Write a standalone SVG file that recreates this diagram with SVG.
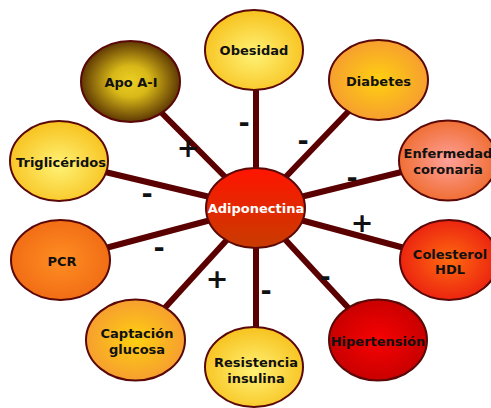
<svg xmlns="http://www.w3.org/2000/svg" width="491" height="408" viewBox="0 0 491 408">
<style>
.node ellipse{stroke:#5a0808;stroke-width:2}
.lbl{font-family:"DejaVu Sans",Verdana,sans-serif;font-weight:bold;font-size:13px;fill:#111;text-anchor:middle}
.ctr{fill:#fff}
.sign{font-family:"DejaVu Sans",Verdana,sans-serif;font-weight:bold;font-size:27px;fill:#111;text-anchor:middle}
#connectors line{stroke:#5a0000;stroke-width:6}
</style>
<defs>
<radialGradient id="gYel" cx="50%" cy="55%" r="55%"><stop offset="0" stop-color="#fff276"/><stop offset="1" stop-color="#f7c21e"/></radialGradient>
<radialGradient id="gApo" cx="50%" cy="50%" r="55%"><stop offset="0" stop-color="#ecd024"/><stop offset="0.35" stop-color="#d8b818"/><stop offset="1" stop-color="#4a2400"/></radialGradient>
<radialGradient id="gOrY" cx="50%" cy="50%" r="55%"><stop offset="0" stop-color="#ffd010"/><stop offset="1" stop-color="#f59a32"/></radialGradient>
<radialGradient id="gEnf" cx="50%" cy="50%" r="55%"><stop offset="0" stop-color="#ffa09a"/><stop offset="1" stop-color="#ee6a2a"/></radialGradient>
<radialGradient id="gCol" cx="50%" cy="50%" r="55%"><stop offset="0" stop-color="#ff6a10"/><stop offset="1" stop-color="#ea1e10"/></radialGradient>
<radialGradient id="gHip" cx="50%" cy="50%" r="55%"><stop offset="0" stop-color="#f80202"/><stop offset="1" stop-color="#c40000"/></radialGradient>
<radialGradient id="gPcr" cx="50%" cy="50%" r="55%"><stop offset="0" stop-color="#ff8e22"/><stop offset="1" stop-color="#f06a14"/></radialGradient>
<linearGradient id="gAdi" x1="0" y1="0" x2="0" y2="1"><stop offset="0" stop-color="#ff1400"/><stop offset="1" stop-color="#c83c00"/></linearGradient>
</defs>
<g id="connectors">
<line x1="256" y1="208" x2="256" y2="50"/>
<line x1="256" y1="208" x2="130.5" y2="81.5"/>
<line x1="256" y1="208" x2="378.5" y2="80"/>
<line x1="256" y1="208" x2="59" y2="161"/>
<line x1="256" y1="208" x2="448" y2="160.5"/>
<line x1="256" y1="208" x2="60.5" y2="260"/>
<line x1="256" y1="208" x2="449" y2="260"/>
<line x1="256" y1="208" x2="135.5" y2="340"/>
<line x1="256" y1="208" x2="378" y2="340"/>
<line x1="256" y1="208" x2="256" y2="368"/>
</g>
<g id="signs">
<text class="sign" x="244" y="132">-</text>
<text class="sign" x="188" y="157">+</text>
<text class="sign" x="303" y="150">-</text>
<text class="sign" x="147" y="203">-</text>
<text class="sign" x="352" y="187">-</text>
<text class="sign" x="362" y="232">+</text>
<text class="sign" x="159" y="257">-</text>
<text class="sign" x="217" y="288">+</text>
<text class="sign" x="266" y="300">-</text>
<text class="sign" x="325" y="286">-</text>
</g>
<g id="obesidad" class="node"><ellipse cx="254" cy="50" rx="49" ry="40" fill="url(#gYel)"/><text class="lbl" x="254" y="55">Obesidad</text></g>
<g id="apo" class="node"><ellipse cx="130.5" cy="81.5" rx="49.5" ry="40.5" fill="url(#gApo)"/><text class="lbl" x="131" y="87">Apo A-I</text></g>
<g id="diabetes" class="node"><ellipse cx="378.5" cy="80" rx="49.5" ry="40" fill="url(#gOrY)"/><text class="lbl" x="378.5" y="86">Diabetes</text></g>
<g id="trigliceridos" class="node"><ellipse cx="59" cy="161" rx="49" ry="40" fill="url(#gYel)"/><text class="lbl" x="61" y="167">Triglicéridos</text></g>
<g id="enfermedad" class="node"><ellipse cx="448" cy="160.5" rx="49" ry="40" fill="url(#gEnf)"/><text class="lbl" x="448" y="158">Enfermedad</text><text class="lbl" x="448" y="174">coronaria</text></g>
<g id="pcr" class="node"><ellipse cx="60.5" cy="260" rx="49.5" ry="40" fill="url(#gPcr)"/><text class="lbl" x="62" y="266">PCR</text></g>
<g id="colesterol" class="node"><ellipse cx="449" cy="260" rx="49" ry="40" fill="url(#gCol)"/><text class="lbl" x="450" y="259">Colesterol</text><text class="lbl" x="450" y="274">HDL</text></g>
<g id="captacion" class="node"><ellipse cx="135.5" cy="340" rx="49.5" ry="40.5" fill="url(#gOrY)"/><text class="lbl" x="137" y="338">Captación</text><text class="lbl" x="137" y="354">glucosa</text></g>
<g id="hipertension" class="node"><ellipse cx="378" cy="340" rx="49" ry="40.5" fill="url(#gHip)"/><text class="lbl" x="378" y="346">Hipertensión</text></g>
<g id="resistencia" class="node"><ellipse cx="254" cy="367" rx="49" ry="40" fill="url(#gYel)"/><text class="lbl" x="256" y="367">Resistencia</text><text class="lbl" x="256" y="383">insulina</text></g>
<g id="adiponectina" class="node"><ellipse cx="255.5" cy="208" rx="49.5" ry="40" fill="url(#gAdi)"/><text class="lbl ctr" x="256" y="213">Adiponectina</text></g>
</svg>
